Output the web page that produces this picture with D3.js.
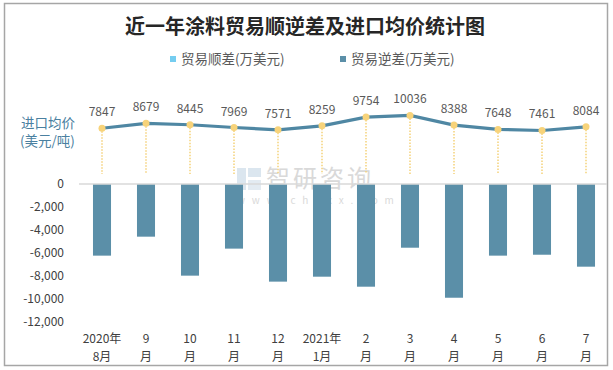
<!DOCTYPE html>
<html>
<head>
<meta charset="utf-8" />
<title>近一年涂料贸易顺逆差及进口均价统计图</title>
<script src="https://d3js.org/d3.v7.min.js"></script>
<style>
  body { margin: 0; background: #fff; }
  svg text { font-family: "Noto Sans CJK SC", "Noto Sans", sans-serif; }
</style>
</head>
<body>
<svg id="chart" width="613" height="370"></svg>
<script>
// data
var months = ["2020年|8月", "9|月", "10|月", "11|月", "12|月", "2021年|1月",
              "2|月", "3|月", "4|月", "5|月", "6|月", "7|月"];
var deficit = [-6230, -4580, -7970, -5620, -8490, -8060, -8930, -5540, -9890, -6230, -6150, -7190];
var price = [7847, 8679, 8445, 7969, 7571, 8259, 9754, 10036, 8388, 7648, 7461, 8084];
var yTicks = [0, -2000, -4000, -6000, -8000, -10000, -12000];
var legendNames = ["贸易顺差(万美元)", "贸易逆差(万美元)"];

var svg = d3.select("#chart");

// frame
svg.append("rect")
  .attr("x", 4.5).attr("y", 3.5)
  .attr("width", 603).attr("height", 362)
  .attr("fill", "#fff")
  .attr("stroke", "#a6a6a6")
  .attr("stroke-width", 1.5);

// title
svg.append("text")
  .attr("x", 305).attr("y", 34)
  .attr("text-anchor", "middle")
  .attr("font-size", 20)
  .attr("font-weight", "bold")
  .attr("fill", "#262626")
  .text("近一年涂料贸易顺逆差及进口均价统计图");

// legend
var legendX = [170, 340];
var legendColors = ["#75cdf0", "#5b8fa8"];
legendNames.forEach(function(name, i) {
  svg.append("rect")
    .attr("x", legendX[i]).attr("y", 56)
    .attr("width", 6).attr("height", 6)
    .attr("fill", legendColors[i]);
  svg.append("text")
    .attr("x", legendX[i] + 11).attr("y", 64)
    .attr("font-size", 13.5)
    .attr("fill", "#595959")
    .text(name);
});

// scales
var x = d3.scaleBand()
  .domain(d3.range(months.length))
  .range([80, 608])
  .paddingInner(0.59)
  .paddingOuter(0.295);

var y = d3.scaleLinear()
  .domain([0, -12000])
  .range([184, 322]);

var yPrice = d3.scaleLinear()
  .domain([0, 12000])
  .range([174, 104]);

// watermark
var wm = svg.append("g").attr("opacity", 0.5);
wm.append("rect").attr("x", 237).attr("y", 168).attr("width", 9).attr("height", 22).attr("fill", "#b8cfe0");
wm.append("rect").attr("x", 248).attr("y", 168).attr("width", 13).attr("height", 9).attr("fill", "#b8cfe0");
wm.append("rect").attr("x", 248).attr("y", 180).attr("width", 13).attr("height", 10).attr("fill", "#c9d9e6");
wm.append("text")
  .attr("x", 266).attr("y", 187)
  .attr("font-size", 24)
  .attr("letter-spacing", 3)
  .attr("fill", "#b5b5b5")
  .text("智研咨询");
wm.append("text")
  .attr("x", 237).attr("y", 204)
  .attr("font-size", 10)
  .attr("letter-spacing", 6.8)
  .attr("fill", "#b5b5b5")
  .text("www.chyxx.com");

// y axis labels
svg.append("g")
  .selectAll("text")
  .data(yTicks)
  .enter()
  .append("text")
  .attr("x", 64)
  .attr("y", function(d) { return y(d) + 4; })
  .attr("text-anchor", "end")
  .attr("font-size", 12)
  .attr("fill", "#404040")
  .text(function(d) { return d3.format(",")(d).replace("−", "-"); });

// bars
svg.append("g")
  .selectAll("rect")
  .data(deficit)
  .enter()
  .append("rect")
  .attr("x", function(d, i) { return x(i); })
  .attr("y", y(0))
  .attr("width", x.bandwidth())
  .attr("height", function(d) { return y(d) - y(0); })
  .attr("fill", "#5b8fa8");

// zero line
svg.append("line")
  .attr("x1", 79).attr("x2", 607)
  .attr("y1", y(0)).attr("y2", y(0))
  .attr("stroke", "#d9d9d9")
  .attr("stroke-width", 1.5);

// x labels
var xl = svg.append("g")
  .selectAll("text")
  .data(months)
  .enter()
  .append("text")
  .attr("text-anchor", "middle")
  .attr("font-size", 12)
  .attr("fill", "#404040");
xl.append("tspan")
  .attr("x", function(d, i) { return x(i) + x.bandwidth() / 2; })
  .attr("y", 343)
  .text(function(d) { return d.split("|")[0]; });
xl.append("tspan")
  .attr("x", function(d, i) { return x(i) + x.bandwidth() / 2; })
  .attr("y", 361)
  .text(function(d) { return d.split("|")[1]; });

// secondary axis title
svg.append("text")
  .attr("x", 21).attr("y", 128)
  .attr("font-size", 13.5)
  .attr("fill", "#4a80a0")
  .text("进口均价");
svg.append("text")
  .attr("x", 20).attr("y", 146)
  .attr("font-size", 13.5)
  .attr("fill", "#4a80a0")
  .text("(美元/吨)");

var cx = function(d, i) { return x(i) + x.bandwidth() / 2; };

// drop lines
svg.append("g")
  .selectAll("line")
  .data(price)
  .enter()
  .append("line")
  .attr("x1", cx).attr("x2", cx)
  .attr("y1", function(d) { return yPrice(d); })
  .attr("y2", yPrice(0))
  .attr("stroke", "#f5d27a")
  .attr("stroke-width", 1.5)
  .attr("stroke-dasharray", "1.5,1.5");

// price line
svg.append("path")
  .datum(price)
  .attr("d", d3.line().x(cx).y(function(d) { return yPrice(d); }))
  .attr("fill", "none")
  .attr("stroke", "#4f87a3")
  .attr("stroke-width", 3.2);

// points
svg.append("g")
  .selectAll("circle")
  .data(price)
  .enter()
  .append("circle")
  .attr("cx", cx)
  .attr("cy", function(d) { return yPrice(d); })
  .attr("r", 3.5)
  .attr("fill", "#f7d37a");

// value labels
svg.append("g")
  .selectAll("text")
  .data(price)
  .enter()
  .append("text")
  .attr("x", cx)
  .attr("y", function(d) { return yPrice(d) - 12; })
  .attr("text-anchor", "middle")
  .attr("font-size", 12)
  .attr("fill", "#595959")
  .text(function(d) { return d; });
</script>
</body>
</html>
